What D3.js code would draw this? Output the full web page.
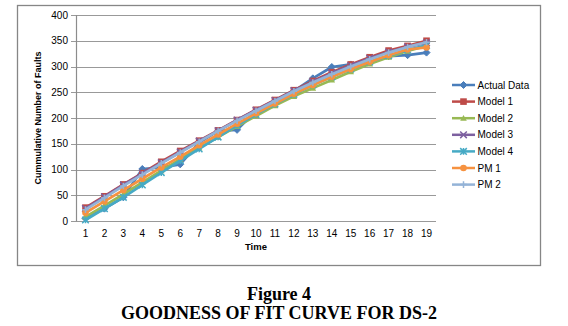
<!DOCTYPE html>
<html>
<head>
<meta charset="utf-8">
<script src="https://cdn.jsdelivr.net/npm/d3@7"></script>
<style>
  html, body { margin: 0; padding: 0; background: #fff; }
  svg { display: block; }
</style>
</head>
<body>
<svg id="chart" width="568" height="326"></svg>
<script>
// Time periods and cumulative fault counts
const times = [1, 2, 3, 4, 5, 6, 7, 8, 9, 10, 11, 12, 13, 14, 15, 16, 17, 18, 19];
const actualData = [5, 24, 46, 101, 104, 110, 152, 175, 177, 214, 232, 252, 277, 299, 304, 310, 320, 322, 327];
const model1 = [26, 48, 71, 93, 115, 136, 156, 176, 196, 216, 235, 254, 272, 289, 304, 318, 331, 340, 350];
const model2 = [8, 30, 52, 75, 98, 120, 142, 163, 184, 204, 224, 242, 258, 274, 290, 305, 318, 330, 340];
const model3 = [24, 47, 70, 92, 113, 134, 155, 175, 196, 215, 234, 253, 270, 287, 302, 316, 328, 338, 346];
const model4 = [2, 24, 46, 70, 94, 117, 140, 163, 186, 207, 227, 246, 264, 280, 295, 309, 321, 332, 341];
const pm1 = [16, 38, 60, 82, 104, 125, 147, 168, 189, 209, 228, 247, 264, 280, 295, 309, 322, 333, 337];
const pm2 = [22, 45, 68, 90, 112, 133, 154, 175, 195, 214, 233, 252, 269, 285, 300, 314, 327, 338, 347];
const yTicks = [0, 50, 100, 150, 200, 250, 300, 350, 400];

const series = [
  { name: "Actual Data", values: actualData, color: "#4A7EBB", marker: "diamond" },
  { name: "Model 1", values: model1, color: "#BE4B48", marker: "square" },
  { name: "Model 2", values: model2, color: "#98B954", marker: "triangle" },
  { name: "Model 3", values: model3, color: "#7D60A0", marker: "cross" },
  { name: "Model 4", values: model4, color: "#46AAC5", marker: "star" },
  { name: "PM 1", values: pm1, color: "#F69240", marker: "circle" },
  { name: "PM 2", values: pm2, color: "#94B3D7", marker: "plus" }
];

const svg = d3.select("#chart");
const font = "'Liberation Sans', Arial, sans-serif";

// Outer chart frame
svg.append("rect")
  .attr("x", 17.5).attr("y", 5.5).attr("width", 523).attr("height", 260)
  .attr("fill", "#fff").attr("stroke", "#868686").attr("stroke-width", 1.3);

const plot = { left: 76, right: 436, top: 15, bottom: 221 };

const x = d3.scalePoint().domain(times).range([plot.left, plot.right]).padding(0.5);
const y = d3.scaleLinear().domain([0, 400]).range([plot.bottom, plot.top]);

// Horizontal gridlines
svg.append("g")
  .selectAll("line")
  .data(yTicks)
  .join("line")
  .attr("x1", plot.left - 5).attr("x2", plot.right)
  .attr("y1", d => Math.round(y(d)) + 0.5).attr("y2", d => Math.round(y(d)) + 0.5)
  .attr("stroke", "#999").attr("stroke-width", 1.2);

// Vertical value axis line
svg.append("line")
  .attr("x1", plot.left + 0.5).attr("x2", plot.left + 0.5)
  .attr("y1", plot.top).attr("y2", plot.bottom + 0.5)
  .attr("stroke", "#8C8C8C").attr("stroke-width", 1.2);

// Y tick labels
svg.append("g")
  .selectAll("text")
  .data(yTicks)
  .join("text")
  .attr("x", plot.left - 8)
  .attr("y", d => y(d))
  .attr("dy", "0.35em")
  .attr("text-anchor", "end")
  .attr("font-family", font).attr("font-size", 10).attr("fill", "#000")
  .text(d => d);

// X tick labels
svg.append("g")
  .selectAll("text")
  .data(times)
  .join("text")
  .attr("x", d => x(d))
  .attr("y", plot.bottom + 16)
  .attr("text-anchor", "middle")
  .attr("font-family", font).attr("font-size", 10).attr("fill", "#000")
  .text(d => d);

// Axis titles
svg.append("text")
  .attr("x", (plot.left + plot.right) / 2).attr("y", 250)
  .attr("text-anchor", "middle")
  .attr("font-family", font).attr("font-size", 9.5).attr("font-weight", "bold")
  .text("Time");

svg.append("text")
  .attr("transform", `translate(41,${(plot.top + plot.bottom) / 2}) rotate(-90)`)
  .attr("text-anchor", "middle")
  .attr("font-family", font).attr("font-size", 9).attr("font-weight", "bold")
  .text("Cummulative Number of Faults");

// High-low lines across all series at each period
svg.append("g")
  .selectAll("line")
  .data(times.map((t, i) => ({ t, vals: series.map(s => s.values[i]) })))
  .join("line")
  .attr("x1", d => x(d.t)).attr("x2", d => x(d.t))
  .attr("y1", d => y(d3.max(d.vals))).attr("y2", d => y(d3.min(d.vals)))
  .attr("stroke", "#000").attr("stroke-width", 1.5);

function drawMarker(g, type, color, size) {
  const s = size;
  switch (type) {
    case "diamond":
      g.append("path").attr("d", `M0,${-s}L${s},0L0,${s}L${-s},0Z`).attr("fill", color).attr("stroke", color);
      break;
    case "square":
      g.append("rect").attr("x", -s).attr("y", -s).attr("width", 2 * s).attr("height", 2 * s).attr("fill", color);
      break;
    case "triangle":
      g.append("path").attr("d", `M0,${-s}L${s},${s * 0.8}L${-s},${s * 0.8}Z`).attr("fill", color);
      break;
    case "cross":
      g.append("path").attr("d", `M${-s},${-s}L${s},${s}M${-s},${s}L${s},${-s}`).attr("stroke", color).attr("stroke-width", 1.5);
      break;
    case "star":
      g.append("path").attr("d", `M${-s},${-s}L${s},${s}M${-s},${s}L${s},${-s}M0,${-s}L0,${s}`).attr("stroke", color).attr("stroke-width", 1.5);
      break;
    case "circle":
      g.append("circle").attr("r", s).attr("fill", color);
      break;
    case "plus":
      g.append("path").attr("d", `M${-s},0L${s},0M0,${-s}L0,${s}`).attr("stroke", color).attr("stroke-width", 1.5);
      break;
  }
}

const line = d3.line().x((d, i) => x(times[i])).y(d => y(d));

// Series lines with markers
series.forEach(s => {
  const g = svg.append("g");
  g.append("path")
    .attr("d", line(s.values))
    .attr("fill", "none")
    .attr("stroke", s.color)
    .attr("stroke-width", 2.7)
    .attr("stroke-linejoin", "round");
  s.values.forEach((v, i) => {
    const m = g.append("g").attr("transform", `translate(${x(times[i])},${y(v)})`);
    drawMarker(m, s.marker, s.color, s.marker === "diamond" ? 3.5 : 3.3);
  });
});

// Legend
const legend = svg.append("g");
series.forEach((s, i) => {
  const ly = 85 + i * 16.6;
  const row = legend.append("g");
  row.append("line")
    .attr("x1", 452).attr("x2", 475).attr("y1", ly).attr("y2", ly)
    .attr("stroke", s.color).attr("stroke-width", 2.5);
  const m = row.append("g").attr("transform", `translate(463.5,${ly})`);
  drawMarker(m, s.marker, s.color, s.marker === "diamond" ? 3.5 : 3.3);
  row.append("text")
    .attr("x", 477.5).attr("y", ly).attr("dy", "0.35em")
    .attr("font-family", font).attr("font-size", 10).attr("fill", "#000")
    .text(s.name);
});

// Caption below the chart
const serif = "'Liberation Serif', 'Times New Roman', serif";
svg.append("text")
  .attr("x", 279).attr("y", 300)
  .attr("text-anchor", "middle")
  .attr("font-family", serif).attr("font-size", 18).attr("font-weight", "bold")
  .text("Figure 4");
svg.append("text")
  .attr("x", 279).attr("y", 319)
  .attr("text-anchor", "middle")
  .attr("font-family", serif).attr("font-size", 18).attr("font-weight", "bold")
  .text("GOODNESS OF FIT CURVE FOR DS-2");
</script>
</body>
</html>
